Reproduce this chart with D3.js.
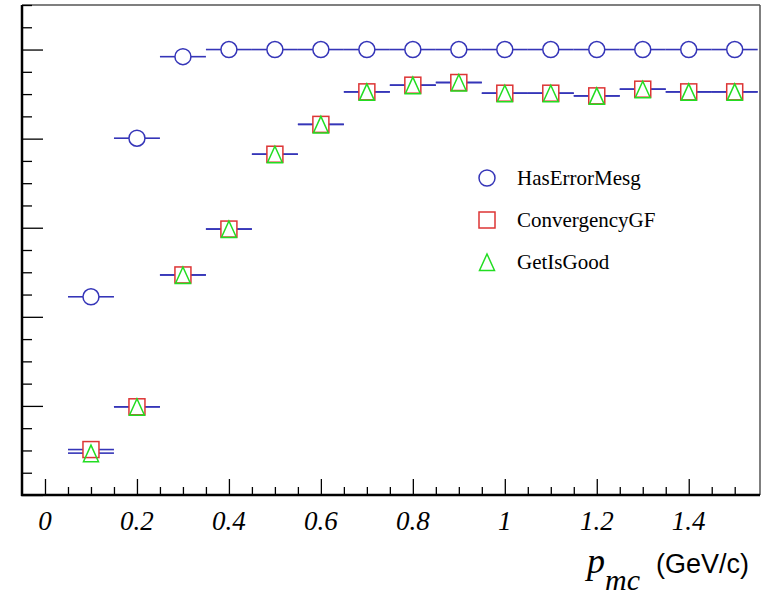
<!DOCTYPE html>
<html><head><meta charset="utf-8">
<script src="https://cdn.jsdelivr.net/npm/d3@7"></script>
<style>body{margin:0;background:#fff}svg{display:block}</style>
</head><body>
<script>
// ---- data ----
const pmc = [0.1,0.2,0.3,0.4,0.5,0.6,0.7,0.8,0.9,1.0,1.1,1.2,1.3,1.4,1.5];
const hasErrorMesg = [0.445,0.801,0.984,1.0,1.0,1.0,1.0,1.0,1.0,1.0,1.0,1.0,1.0,1.0,1.0];
const convergencyGF = [0.102,0.198,0.494,0.597,0.765,0.832,0.905,0.920,0.926,0.902,0.902,0.896,0.911,0.905,0.905];
const getIsGood = [0.094,0.198,0.494,0.597,0.765,0.832,0.905,0.920,0.926,0.902,0.902,0.896,0.911,0.905,0.905];
const binHalfWidth = 0.05;
const xMajorTicks = [0,0.2,0.4,0.6,0.8,1,1.2,1.4];
const xTickLabels = ["0","0.2","0.4","0.6","0.8","1","1.2","1.4"];
const legendLabels = ["HasErrorMesg","ConvergencyGF","GetIsGood"];

const W=782,H=596;
const L=22,R=760,T=5,B=495;
const svg=d3.select("body").append("svg").attr("width",W).attr("height",H);
const x=d3.scaleLinear().domain([-0.05,1.555]).range([L,R]);
const y=d3.scaleLinear().domain([0,1.1]).range([B,T]);

const blue="#3535b8", red="#dd3535", green="#22dd22";

// frame top/right
svg.append("line").attr("x1",L).attr("x2",R).attr("y1",T).attr("y2",T).attr("stroke","#555").attr("stroke-width",1.5);
svg.append("line").attr("x1",R).attr("x2",R).attr("y1",T).attr("y2",B).attr("stroke","#555").attr("stroke-width",1.5);

// x axis ticks
const xMinor=d3.range(1,32).map(i=>-0.05+i*0.05).filter(v=>v<1.552);
const isMajor=v=>xMajorTicks.some(m=>Math.abs(m-v)<1e-6);
const gx=svg.append("g").attr("transform",`translate(0,${B})`)
  .call(d3.axisBottom(x).tickValues(xMinor).tickSize(-8).tickFormat(""));
gx.select(".domain").remove();
gx.selectAll(".tick line").attr("stroke","#000").attr("stroke-width",1.3)
  .attr("y2",d=>isMajor(d)?-16:-8);
svg.append("line").attr("x1",L-1).attr("x2",R).attr("y1",B).attr("y2",B).attr("stroke","#000").attr("stroke-width",2.5);

// y axis ticks
const yMinor=d3.range(0,23).map(i=>i*0.05);
const yIsMajor=v=>Math.abs(v/0.2-Math.round(v/0.2))<1e-6;
const gy=svg.append("g").attr("transform",`translate(${L},0)`)
  .call(d3.axisLeft(y).tickValues(yMinor).tickSize(-10).tickFormat(""));
gy.select(".domain").remove();
gy.selectAll(".tick line").attr("stroke","#000").attr("stroke-width",1.3)
  .attr("x2",d=>yIsMajor(d)?21:10);
svg.append("line").attr("x1",L).attr("x2",L).attr("y1",T).attr("y2",B+1).attr("stroke","#000").attr("stroke-width",2.5);

// x tick labels
svg.append("g").selectAll("text").data(xMajorTicks).join("text")
  .attr("x",d=>x(d)).attr("y",530).attr("text-anchor","middle")
  .attr("font-family","'Liberation Serif',serif").attr("font-style","italic")
  .attr("font-size",27).attr("fill","#000").text((d,i)=>xTickLabels[i]);

// axis title
const tt=svg.append("text").attr("x",587).attr("y",573).attr("font-family","'Liberation Serif',serif").attr("fill","#000");
tt.append("tspan").attr("font-style","italic").attr("font-size",36).text("p");
tt.append("tspan").attr("font-style","italic").attr("font-size",30).attr("dy",17).attr("dx",0).text("mc");
svg.append("text").attr("x",656).attr("y",573).attr("font-family","'Liberation Sans',Arial,sans-serif")
  .attr("font-size",27).attr("fill","#000").text("(GeV/c)");

// markers
const r=8;
function errBars(vals){
  const g=svg.append("g").attr("stroke",blue).attr("stroke-width",1.6);
  pmc.forEach((p,i)=>{
    const cy=y(vals[i]), cx=x(p);
    g.append("line").attr("x1",x(p-binHalfWidth)).attr("x2",cx-r).attr("y1",cy).attr("y2",cy);
    g.append("line").attr("x1",cx+r).attr("x2",x(p+binHalfWidth)).attr("y1",cy).attr("y2",cy);
  });
}
errBars(getIsGood); errBars(convergencyGF); errBars(hasErrorMesg);

function circle(g,cx,cy){g.append("circle").attr("cx",cx).attr("cy",cy).attr("r",r).attr("fill","none").attr("stroke",blue).attr("stroke-width",1.5);}
function square(g,cx,cy){g.append("rect").attr("x",cx-8).attr("y",cy-8).attr("width",16).attr("height",16).attr("fill","none").attr("stroke",red).attr("stroke-width",1.5);}
function tri(g,cx,cy){g.append("path").attr("d",`M${cx},${cy-8}L${cx+7.5},${cy+8.5}L${cx-7.5},${cy+8.5}Z`).attr("fill","none").attr("stroke",green).attr("stroke-width",1.5);}

const gm=svg.append("g");
pmc.forEach((p,i)=>circle(gm,x(p),y(hasErrorMesg[i])));
pmc.forEach((p,i)=>square(gm,x(p),y(convergencyGF[i])));
pmc.forEach((p,i)=>tri(gm,x(p),y(getIsGood[i])));

// legend
const lg=svg.append("g");
const ly=[178,220,262];
circle(lg,487,ly[0]); square(lg,487,ly[1]); tri(lg,487,ly[2]);
lg.selectAll("text").data(legendLabels).join("text")
  .attr("x",517).attr("y",(d,i)=>ly[i]+7).attr("font-family","'Liberation Serif',serif")
  .attr("font-size",21).attr("fill","#000").text(d=>d);
</script>
</body></html>
